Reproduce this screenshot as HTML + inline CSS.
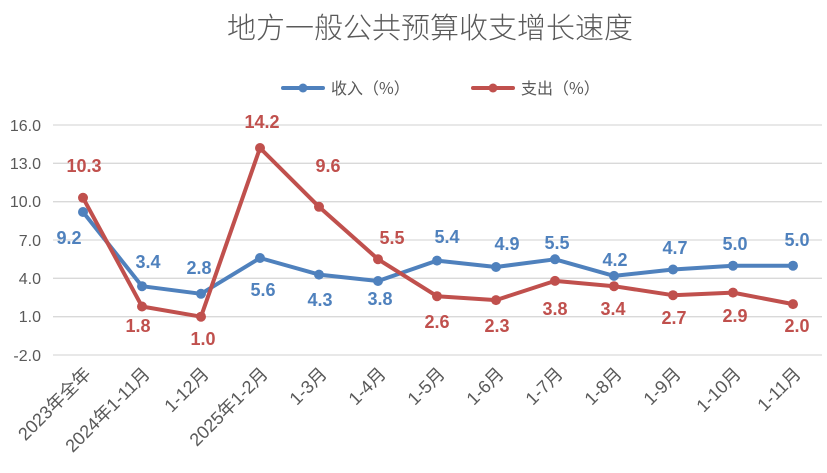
<!DOCTYPE html>
<html><head><meta charset="utf-8"><style>body{margin:0;background:#fff}svg{display:block}</style></head><body>
<svg width="827" height="473" xmlns="http://www.w3.org/2000/svg" font-family="Liberation Sans, Noto Sans CJK SC, sans-serif">
<text x="430" y="38" text-anchor="middle" font-size="29" fill="#595959" font-weight="300" font-family="Noto Sans CJK SC, sans-serif">地方一般公共预算收支增长速度</text>
<g stroke-width="4" stroke-linecap="round">
<line x1="283" y1="88" x2="323" y2="88" stroke="#4F81BD"/><circle cx="303" cy="88" r="4.5" fill="#4F81BD"/>
<line x1="473" y1="88" x2="513" y2="88" stroke="#C0504D"/><circle cx="493" cy="88" r="4.5" fill="#C0504D"/>
</g>
<text x="331" y="94" font-size="16" fill="#595959" font-family="Noto Sans CJK SC, sans-serif">收入（%）</text>
<text x="521" y="94" font-size="16" fill="#595959" font-family="Noto Sans CJK SC, sans-serif">支出（%）</text>
<g stroke="#d9d9d9" stroke-width="1.3">
<line x1="53" x2="822" y1="125" y2="125"/><line x1="53" x2="822" y1="163.3" y2="163.3"/><line x1="53" x2="822" y1="201.7" y2="201.7"/><line x1="53" x2="822" y1="240" y2="240"/><line x1="53" x2="822" y1="278.3" y2="278.3"/><line x1="53" x2="822" y1="316.7" y2="316.7"/><line x1="53" x2="822" y1="355" y2="355"/>
</g>
<g font-size="16" fill="#595959" text-anchor="end">
<text x="41" y="131">16.0</text><text x="41" y="169">13.0</text><text x="41" y="207">10.0</text><text x="41" y="246">7.0</text><text x="41" y="284">4.0</text><text x="41" y="322">1.0</text><text x="41" y="361">-2.0</text>
</g>
<g font-size="18" fill="#595959" text-anchor="end" font-family="Liberation Sans, Noto Sans CJK SC, sans-serif">
<text transform="translate(92,375) rotate(-45)">2023年全年</text>
<text transform="translate(151,375) rotate(-45)">2024年1-11月</text>
<text transform="translate(210,375) rotate(-45)">1-12月</text>
<text transform="translate(269,375) rotate(-45)">2025年1-2月</text>
<text transform="translate(328,375) rotate(-45)">1-3月</text>
<text transform="translate(387,375) rotate(-45)">1-4月</text>
<text transform="translate(446,375) rotate(-45)">1-5月</text>
<text transform="translate(505,375) rotate(-45)">1-6月</text>
<text transform="translate(564,375) rotate(-45)">1-7月</text>
<text transform="translate(623,375) rotate(-45)">1-8月</text>
<text transform="translate(682,375) rotate(-45)">1-9月</text>
<text transform="translate(742,375) rotate(-45)">1-10月</text>
<text transform="translate(802,375) rotate(-45)">1-11月</text>
</g>
<polyline fill="none" stroke="#4F81BD" stroke-width="4" stroke-linejoin="round" points="83,212 142,286.2 201,293.8 260,258 319,274.6 378,281 437,260.6 496,267 555,259.3 614,275.9 673,269.5 733,265.7 793,265.7"/>
<polyline fill="none" stroke="#C0504D" stroke-width="4" stroke-linejoin="round" points="83,197.8 142,306.5 201,316.7 260,148 319,206.8 378,259.2 437,296.2 496,300.1 555,280.9 614,286.2 673,295.2 733,292.6 793,304.1"/>
<g fill="#4F81BD"><circle cx="83" cy="212" r="5"/><circle cx="142" cy="286.2" r="5"/><circle cx="201" cy="293.8" r="5"/><circle cx="260" cy="258" r="5"/><circle cx="319" cy="274.6" r="5"/><circle cx="378" cy="281" r="5"/><circle cx="437" cy="260.6" r="5"/><circle cx="496" cy="267" r="5"/><circle cx="555" cy="259.3" r="5"/><circle cx="614" cy="275.9" r="5"/><circle cx="673" cy="269.5" r="5"/><circle cx="733" cy="265.7" r="5"/><circle cx="793" cy="265.7" r="5"/></g>
<g fill="#C0504D"><circle cx="83" cy="197.8" r="5"/><circle cx="142" cy="306.5" r="5"/><circle cx="201" cy="316.7" r="5"/><circle cx="260" cy="148" r="5"/><circle cx="319" cy="206.8" r="5"/><circle cx="378" cy="259.2" r="5"/><circle cx="437" cy="296.2" r="5"/><circle cx="496" cy="300.1" r="5"/><circle cx="555" cy="280.9" r="5"/><circle cx="614" cy="286.2" r="5"/><circle cx="673" cy="295.2" r="5"/><circle cx="733" cy="292.6" r="5"/><circle cx="793" cy="304.1" r="5"/></g>
<g font-size="18" font-weight="bold" fill="#4F81BD" text-anchor="middle">
<text x="69" y="244">9.2</text><text x="148" y="268">3.4</text><text x="199" y="274">2.8</text><text x="263" y="296">5.6</text><text x="320" y="306">4.3</text><text x="380" y="305">3.8</text><text x="447" y="243">5.4</text><text x="507" y="250">4.9</text><text x="557" y="249">5.5</text><text x="615" y="266">4.2</text><text x="675" y="254">4.7</text><text x="735" y="250">5.0</text><text x="797" y="246">5.0</text>
</g>
<g font-size="18" font-weight="bold" fill="#C0504D" text-anchor="middle">
<text x="84" y="172">10.3</text><text x="138" y="332">1.8</text><text x="203" y="345">1.0</text><text x="262" y="128">14.2</text><text x="328" y="172">9.6</text><text x="392" y="244">5.5</text><text x="437" y="328">2.6</text><text x="497" y="332">2.3</text><text x="555" y="315">3.8</text><text x="613" y="315">3.4</text><text x="674" y="324">2.7</text><text x="735" y="322">2.9</text><text x="797" y="332">2.0</text>
</g>
</svg>
</body></html>
